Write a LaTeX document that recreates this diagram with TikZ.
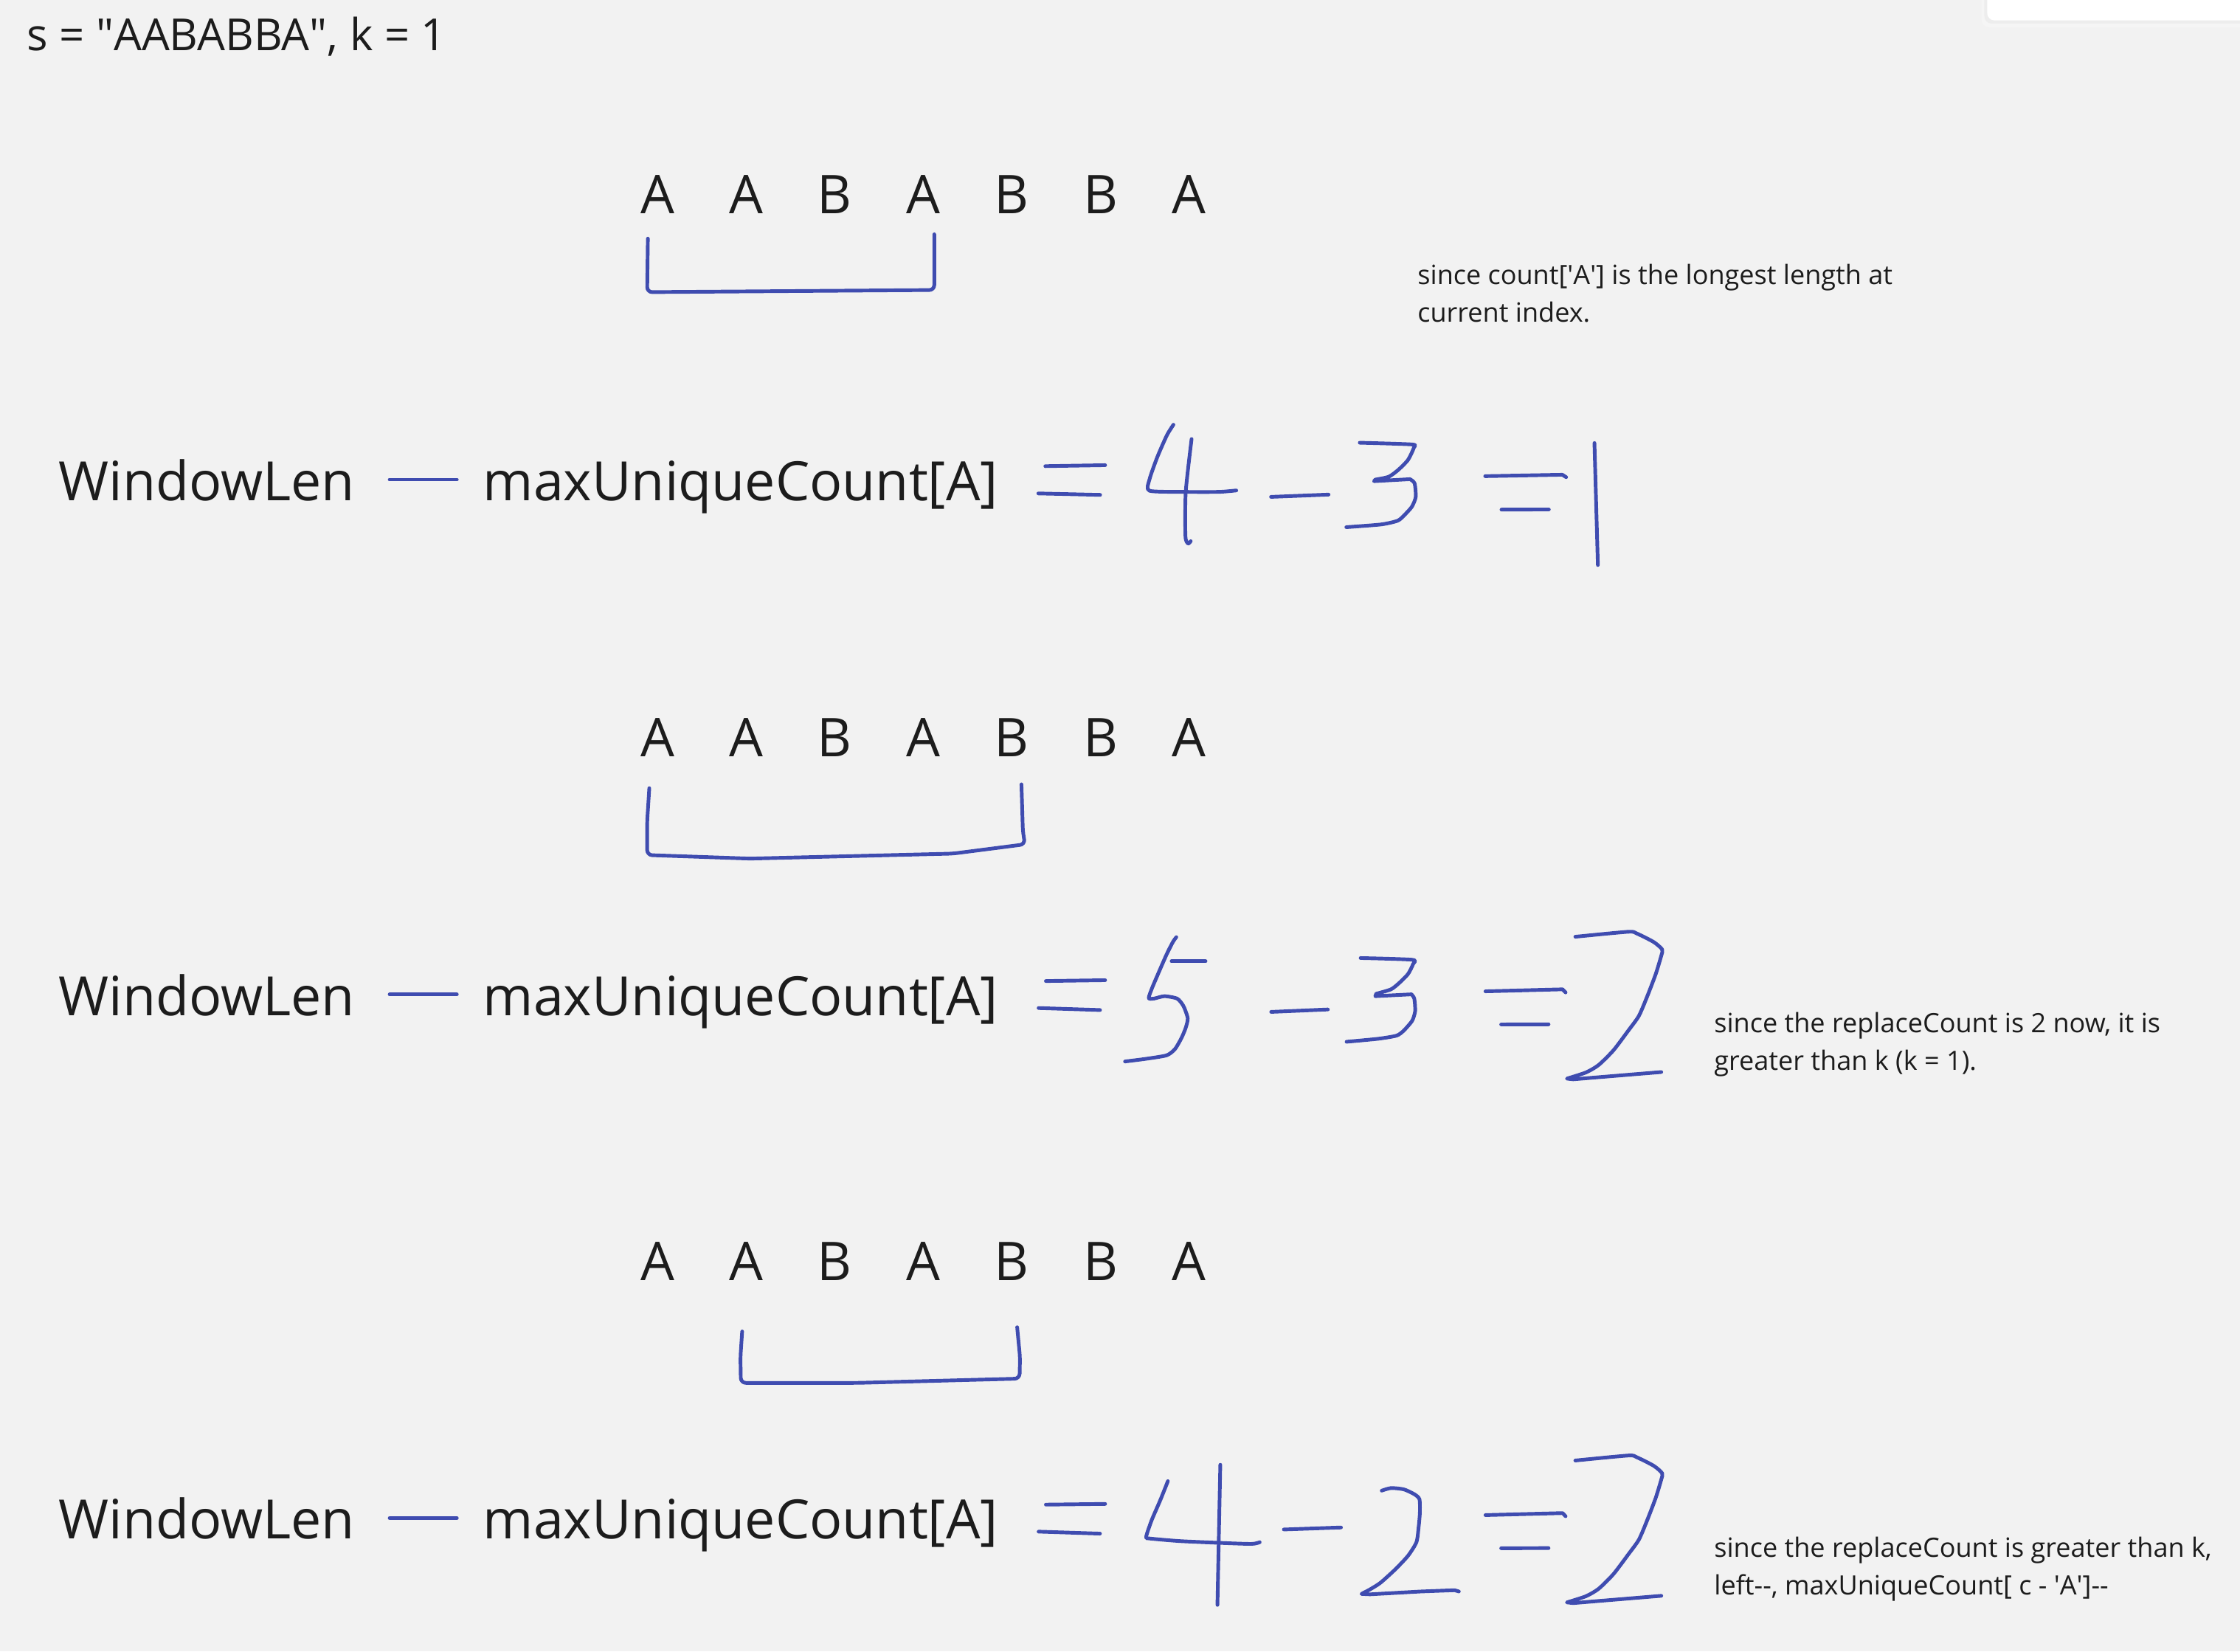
\documentclass[tikz,border=0pt]{standalone}
\usepackage{fontspec}
\setmainfont{Open Sans}
\usetikzlibrary{positioning,calc}
\definecolor{boardbg}{HTML}{F2F2F2}
\definecolor{inkgrey}{HTML}{1C1C1C}
\definecolor{penblue}{HTML}{3F4CB0}
\tikzset{
  penline/.style={draw=penblue, line width=1.45pt, line cap=round, line join=round},
  bigtext/.style={anchor=base west, inner sep=0pt, text=inkgrey,
    font=\fontsize{21.6}{25}\selectfont},
  letter/.style={anchor=base, inner sep=0pt, text=inkgrey,
    font=\fontsize{21.3}{25}\selectfont},
  note/.style={anchor=base west, inner sep=0pt, text=inkgrey, align=left,
    font=\fontsize{10.6}{15}\selectfont},
}
% big handwritten "= 2" at the end of rows 2 and 3
\newcommand{\resulttwo}[1]{%
  \begin{scope}[yshift=#1]
    \draw[penline] (1039.8,693.9) -- (1093.8,692.5) -- (1095.9,694.7);
    \draw[penline] (1050.8,717.1) -- (1084.0,717.0);
    \draw[penline] plot[smooth, tension=0.4] coordinates {(1102.7,655.7) (1139.8,652.2)
      (1145.7,653.4) (1157.6,659.4) (1163.5,664.6) (1162.9,668.9) (1159.0,681.8)
      (1153.1,697.3) (1147.2,711.1) (1139.8,721.4) (1129.4,735.2) (1119.0,745.5)
      (1110.1,750.7) (1096.8,755.0)}
      -- (1101.2,755.5) -- (1162.9,750.4);
  \end{scope}%
}

\begin{document}
\begin{tikzpicture}[x=0.02cm, y=-0.02cm]
  % board
  \fill[boardbg] (0,0) rectangle (1568,1156);
  \useasboundingbox (0,0) rectangle (1568,1156);
  \fill[black!4, rounded corners=3pt] (1387,-10) rectangle (1600,19);
  \fill[black!7, rounded corners=3pt] (1389,-10) rectangle (1600,16.5);
  \fill[white, rounded corners=3pt] (1391,-10) rectangle (1600,14.3);

  \node[anchor=base west, inner sep=0pt, text=inkgrey,
    font=\fontsize{17.6}{21}\selectfont] (title) at (18.4,35.5)
    {s = \textquotedbl AABABBA\textquotedbl, k = 1};

  % the string, three times
  \foreach \row/\yb in {1/149.4, 2/529.4, 3/896.4}{
    \foreach \ch [count=\i from 0] in {A,A,B,A,B,B,A}{
      \node[letter] (c\row\i) at ({460.3+62.0*\i},\yb) {\ch};
    }
  }

  % formula rows
  \foreach \row/\yb in {1/350.4, 2/710.8, 3/1077.3}{
    \node[bigtext] (wlen\row) at (40.8,\yb) {WindowLen};
    \node[bigtext] (maxc\row) at (337.8,\yb) {maxUniqueCount[A]};
    \draw[penline] ($(wlen\row.base east)+(24,-14.7)$) -- ($(maxc\row.base west)+(-18,-14.7)$);
  }

  % windows
  \draw[penline, rounded corners=2pt] (453.5,167) -- (453,204.5) -- (654,203) -- (654,164);
  \draw[penline, rounded corners=2pt] (454.5,551.7) -- (453,575) -- (453,598.5)
    -- (525,601) -- (667,597.5) -- (717.5,591) -- (716,582) -- (715.5,565) -- (715,549);
  \draw[penline, rounded corners=2pt] (519.5,932) -- (518.3,950) -- (518.6,968)
    -- (600,968) -- (713.7,965) -- (714,950) -- (712,929);

  % row 1: = 4 - 3 = 1
  \draw[penline] (731.7,326.3) -- (773.6,325.6);
  \draw[penline] (726.8,345.4) -- (770.1,346.4);
  \draw[penline] plot[smooth, tension=0.4] coordinates {(821.4,297.3) (816.8,304.7)
    (810.0,320.2) (804.6,335.7) (804.6,343.5) (829.0,344.3) (853.3,344.3) (865.4,343.3)};
  \draw[penline] plot[smooth, tension=0.4] coordinates {(834.1,307.3) (830.0,344.3)
    (829.8,375.3) (831.6,380.5) (833.5,378.8)};
  \draw[penline] (889.7,347.8) -- (930.0,346.2);
  \draw[penline] plot[smooth, tension=0.4] coordinates {(951.8,309.9) (988.3,311.1)
    (989.7,313.3) (985.6,321.9) (978.9,328.8) (972.1,333.7) (962.7,335.7)}
    -- (961.8,336.8) -- (987.0,335.4)
    plot[smooth, tension=0.4] coordinates {(987.0,335.4) (990.2,338.3) (991.0,347.8)
    (988.3,354.7) (982.9,360.7) (978.3,364.5) (966.7,367.1) (942.4,369.0)};
  \draw[penline] (1039.6,333.3) -- (1093.6,332.3) -- (1096.3,334.0);
  \draw[penline] (1051.0,356.7) -- (1084.2,356.6);
  \draw[penline] (1116.1,310.1) -- (1118.5,395.5);

  % row 2: = 5 - 3 = 2
  \draw[penline] (732.1,686.7) -- (773.6,686.1);
  \draw[penline] (727.0,705.6) -- (770.0,707.0);
  \draw[penline] (820.1,672.9) -- (843.9,672.9);
  \draw[penline] plot[smooth, tension=0.4] coordinates {(823.4,656.0) (821.0,659.4)
    (816.6,668.1) (810.6,681.8) (806.2,692.2) (804.1,698.7) (807.7,699.0) (815.1,697.3)
    (824.0,699.0) (828.4,704.2) (831.4,712.8) (829.9,719.7) (827.0,726.6) (822.5,734.3)
    (816.6,738.7) (801.8,741.2) (787.5,743.0)};
  \draw[penline] (889.8,708.3) -- (929.5,706.6);
  \draw[penline] plot[smooth, tension=0.4] coordinates {(952.4,670.6) (988.5,671.8)
    (989.1,674.9) (985.6,681.8) (979.6,687.9) (973.7,692.5) (963.3,695.6)}
    -- (962.7,697.3) -- (988.0,696.0)
    plot[smooth, tension=0.4] coordinates {(988.0,696.0) (990.0,699.0) (990.6,707.7)
    (988.5,714.5) (982.6,721.4) (977.6,724.9) (964.8,727.1) (942.6,729.2)};
  \resulttwo{0}

  % row 3: = 4 - 2 = 2
  \draw[penline] (732.1,1053.2) -- (773.6,1052.7);
  \draw[penline] (727.0,1072.1) -- (770.0,1073.5);
  \draw[penline] plot[smooth, tension=0.4] coordinates {(817.5,1036.8) (812.1,1050.3)
    (806.2,1064.0) (802.3,1075.7) (804.7,1076.9) (825.5,1078.7) (852.2,1079.9)
    (875.9,1080.7) (881.8,1079.5)};
  \draw[penline] (854.2,1025.3) -- (852.2,1123.4);
  \draw[penline] (898.7,1070.6) -- (938.7,1069.2);
  \draw[penline] plot[smooth, tension=0.4] coordinates {(967.2,1043.4) (973.7,1041.6)
    (982.6,1042.5) (990.0,1045.9) (993.6,1049.4) (993.9,1058.9) (993.0,1069.2)
    (991.5,1079.5) (985.6,1089.0) (976.7,1098.5) (966.3,1107.9) (958.9,1112.6)
    (953.0,1115.7)} -- (958.9,1116.0) -- (994.5,1114.0) -- (1018.2,1113.1) -- (1021.2,1114.0);
  \resulttwo{-7.334cm}

  % notes (base = baseline of the last line)
  \node[note] (note1) at (992.0,225.3)
    {since count[\textquotesingle A\textquotesingle] is the longest length at\\current index.};
  \node[note] (note2) at (1199.6,749.3)
    {since the replaceCount is 2 now, it is\\greater than k (k = 1).};
  \node[note] (note3) at (1199.6,1116.3)
    {since the replaceCount is greater than k,\\left-{}-, maxUniqueCount[ c - \textquotesingle A\textquotesingle]-{}-};
\end{tikzpicture}
\end{document}
